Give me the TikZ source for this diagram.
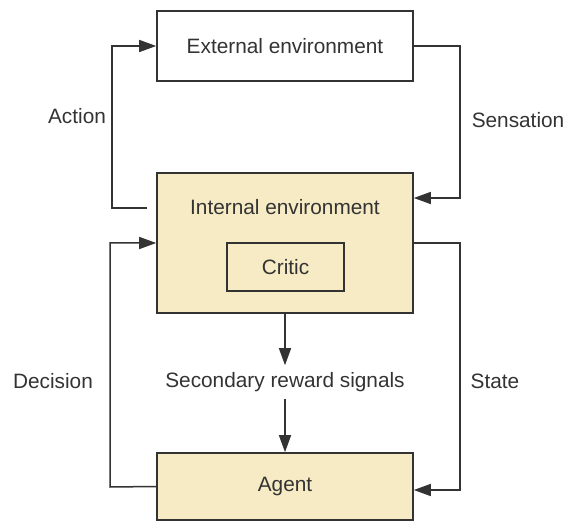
\documentclass[tikz,border=0pt]{standalone}
\usepackage{fontspec}
\setmainfont{Liberation Sans}
\usetikzlibrary{arrows.meta}
\definecolor{ink}{RGB}{51,51,51}
\definecolor{tan}{RGB}{246,235,196}
\begin{document}
\begin{tikzpicture}[x=0.5pt,y=-0.5pt,
  every node/.style={text=ink,font=\fontsize{10.4}{12.5}\selectfont},
  blk/.style={draw=ink,line width=0.8pt,minimum width=128pt,inner sep=0pt},
  link/.style={draw=ink,line width=0.75pt},
  arr/.style={link,-{Triangle[length=8.5pt,width=6pt]}}]
\useasboundingbox (0,0) rectangle (566,522);

% boxes
\node[blk,minimum height=35pt,fill=white] (ext) at (285,46) {External environment};
\node[blk,minimum height=70pt,fill=tan] (int) at (285,243) {};
\node (intlabel) at (285,207) {Internal environment};
\node[blk,minimum width=58.5pt,minimum height=24pt,fill=tan] (critic) at (285.5,267) {Critic};
\node[blk,minimum height=33.5pt,fill=tan] (agent) at (285,486.5) {Agent};
\node (reward) at (285,382) {Secondary reward signals};

% side labels
\node (action) at (77,116) {Action};
\node (sensation) at (518,120) {Sensation};
\node (decision) at (53,381) {Decision};
\node (state) at (495,381) {State};

% loops
\coordinate (actstart) at (147,208);
\draw[arr] (actstart) -- (112,208) |- (ext.west);
\draw[arr] (ext.east) -- (460,46) |- (int.east |- 0,198);
\draw[arr] (agent.west) -- (110,487) |- (int.west |- 0,243);
\draw[arr] (int.east |- 0,243) -- (460,243) |- (agent.east |- 0,490);

% reward signal path
\draw[arr] (int.south) -- (reward.north);
\draw[arr] (reward.south) -- (agent.north);
\end{tikzpicture}
\end{document}
